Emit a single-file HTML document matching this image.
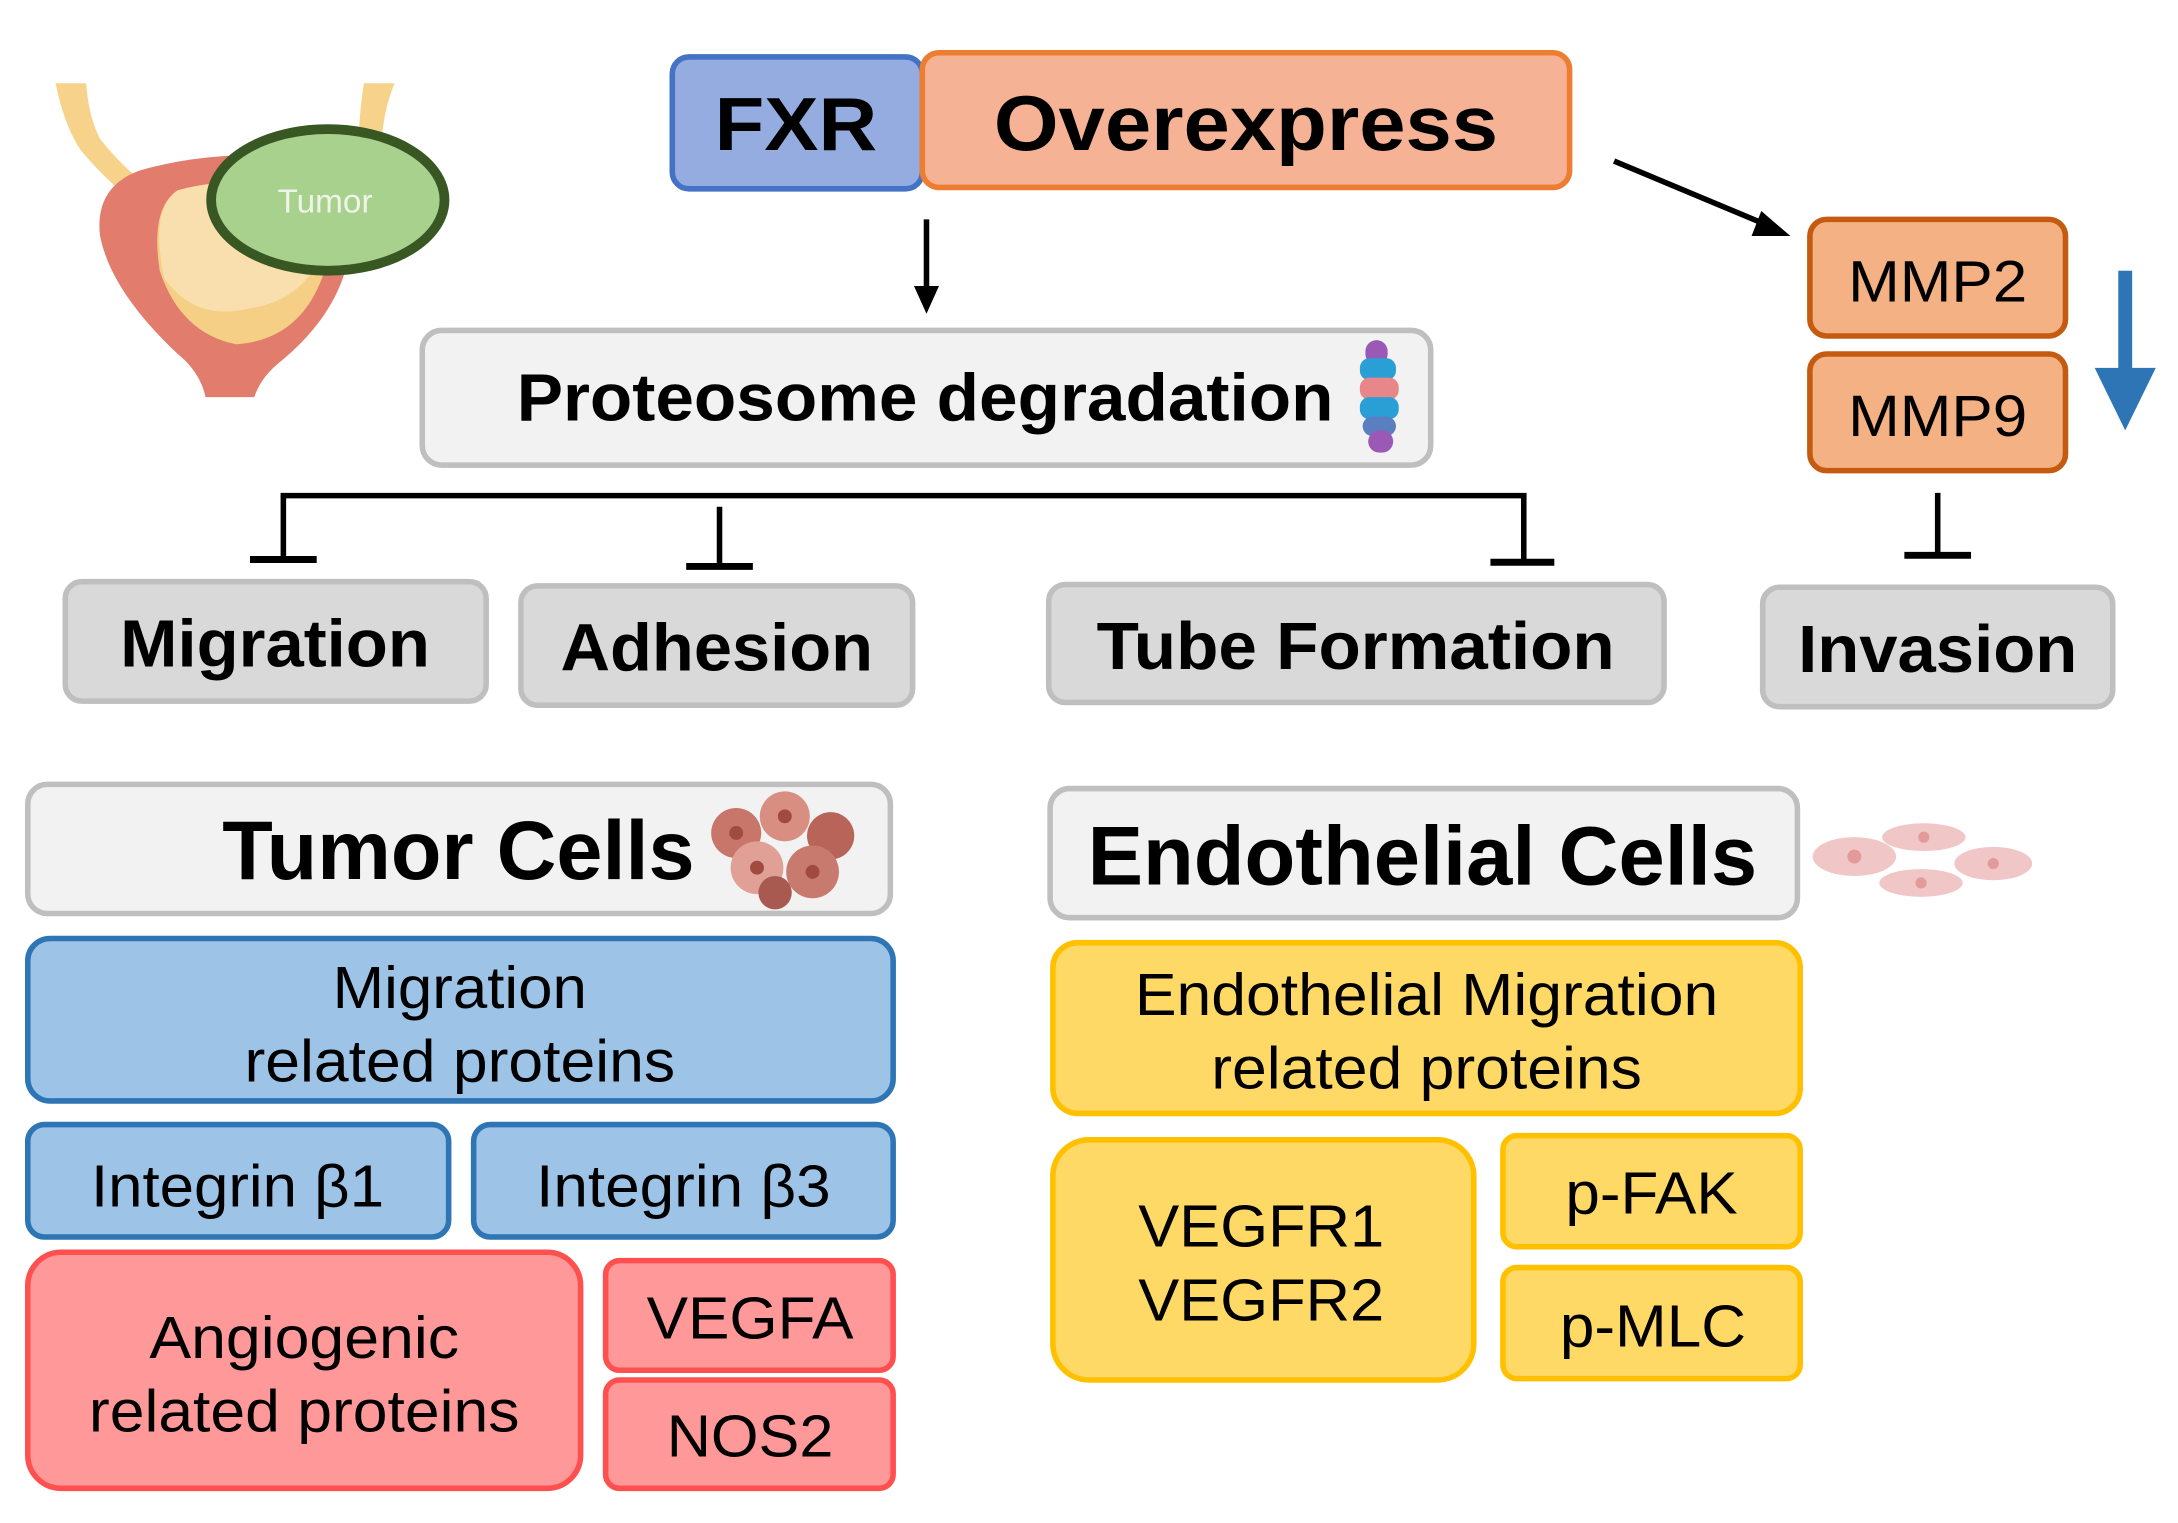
<!DOCTYPE html>
<html><head><meta charset="utf-8"><style>html,body{margin:0;padding:0;background:#fff}svg{display:block}</style></head><body>
<svg width="2178" height="1523" viewBox="0 0 1568 1097" preserveAspectRatio="none" xmlns="http://www.w3.org/2000/svg" font-family="Liberation Sans, Arial, sans-serif">
<!-- bladder -->
<path d="M40,60 L62,60 Q64,85 72,100 Q88,120 104,132 L92,142 Q72,125 58,108 Q46,90 40,60Z" fill="#f7d28a"/>
<path d="M262,60 L284,60 Q276,80 275,100 L258,112 Q258,85 262,60Z" fill="#f7d28a"/>
<path d="M100,123 Q150,108 225,112 Q260,125 250,190 Q240,230 200,262 Q188,272 183,286 L148,286 Q144,268 128,255 Q80,210 72,170 Q68,135 100,123Z" fill="#e27c6c"/>
<path d="M128,137 Q170,126 215,135 Q245,150 232,200 Q215,245 170,248 Q130,240 115,195 Q108,150 128,137Z" fill="#f5cf85"/>
<path d="M128,137 Q170,126 215,135 L240,155 Q230,215 180,222 Q140,232 118,200 Q108,150 128,137Z" fill="#f9dfad"/>
<ellipse cx="236" cy="144" rx="84" ry="51" fill="#a8d18d" stroke="#385723" stroke-width="7"/>
<text x="234" y="153" font-size="24" fill="#eef5e8" text-anchor="middle">Tumor</text>
<!-- FXR / Overexpress -->
<rect x="484" y="41" width="180" height="95" rx="12" fill="#94ace0" stroke="#4472c4" stroke-width="4"/>
<text x="573" y="108" font-size="54" font-weight="bold" text-anchor="middle" textLength="117" lengthAdjust="spacingAndGlyphs">FXR</text>
<rect x="664" y="38" width="466" height="97" rx="12" fill="#f5b294" stroke="#ed7d31" stroke-width="4"/>
<text x="897" y="108" font-size="56" font-weight="bold" text-anchor="middle" textLength="363" lengthAdjust="spacingAndGlyphs">Overexpress</text>
<!-- arrows -->
<line x1="667" y1="158" x2="667" y2="210" stroke="#000" stroke-width="4"/>
<path d="M658,206 L676,206 L667,226Z" fill="#000"/>
<line x1="1162" y1="116" x2="1272" y2="162" stroke="#000" stroke-width="4"/>
<path d="M1268,152 L1289,170 L1261,170Z" fill="#000"/>
<!-- MMP -->
<rect x="1303" y="158" width="184" height="84" rx="12" fill="#f4b183" stroke="#c55a11" stroke-width="4"/>
<text x="1395" y="217" font-size="42" text-anchor="middle" textLength="129" lengthAdjust="spacingAndGlyphs">MMP2</text>
<rect x="1303" y="255" width="184" height="84" rx="12" fill="#f4b183" stroke="#c55a11" stroke-width="4"/>
<text x="1395" y="314" font-size="42" text-anchor="middle" textLength="129" lengthAdjust="spacingAndGlyphs">MMP9</text>
<rect x="1525" y="195" width="10" height="72" fill="#2e75b6"/>
<path d="M1508,265 L1552,265 L1530,310Z" fill="#2e75b6"/>
<!-- Proteosome -->
<rect x="304" y="238" width="726" height="97" rx="14" fill="#f2f2f2" stroke="#bfbfbf" stroke-width="4"/>
<text x="666" y="303" font-size="48" font-weight="bold" text-anchor="middle" textLength="588" lengthAdjust="spacingAndGlyphs">Proteosome degradation</text>
<g>
<rect x="983" y="245" width="16" height="18" rx="8" fill="#9b59b6"/>
<rect x="979" y="258" width="26" height="16" rx="7" fill="#2a9fd6"/>
<rect x="979" y="272" width="28" height="16" rx="7" fill="#e8868a"/>
<rect x="979" y="286" width="28" height="16" rx="7" fill="#2a9fd6"/>
<rect x="981" y="300" width="24" height="14" rx="7" fill="#5a7fc0"/>
<rect x="985" y="310" width="18" height="16" rx="8" fill="#9b59b6"/>
</g>
<!-- bracket -->
<g stroke="#000" stroke-width="4" fill="none">
<line x1="202" y1="357" x2="1099" y2="357"/>
<line x1="204" y1="357" x2="204" y2="403"/>
<line x1="180" y1="403" x2="228" y2="403" stroke-width="5"/>
<line x1="518" y1="365" x2="518" y2="408"/>
<line x1="494" y1="408" x2="542" y2="408" stroke-width="5"/>
<line x1="1097" y1="357" x2="1097" y2="405"/>
<line x1="1073" y1="405" x2="1119" y2="405" stroke-width="5"/>
<line x1="1395" y1="355" x2="1395" y2="400"/>
<line x1="1371" y1="400" x2="1419" y2="400" stroke-width="5"/>
</g>
<!-- gray boxes -->
<g fill="#d9d9d9" stroke="#bfbfbf" stroke-width="4">
<rect x="47" y="419" width="303" height="86" rx="12"/>
<rect x="375" y="422" width="282" height="86" rx="12"/>
<rect x="755" y="421" width="443" height="85" rx="12"/>
<rect x="1269" y="423" width="252" height="86" rx="12"/>
</g>
<g font-size="48" font-weight="bold" text-anchor="middle" lengthAdjust="spacingAndGlyphs">
<text x="198" y="480" textLength="223" lengthAdjust="spacingAndGlyphs">Migration</text>
<text x="516" y="483" textLength="225" lengthAdjust="spacingAndGlyphs">Adhesion</text>
<text x="976" y="482" textLength="373" lengthAdjust="spacingAndGlyphs">Tube Formation</text>
<text x="1395" y="484" textLength="201" lengthAdjust="spacingAndGlyphs">Invasion</text>
</g>
<!-- headers -->
<rect x="20" y="565" width="621" height="93" rx="14" fill="#f2f2f2" stroke="#bfbfbf" stroke-width="4"/>
<text x="330" y="633" font-size="60" font-weight="bold" text-anchor="middle" textLength="340" lengthAdjust="spacingAndGlyphs">Tumor Cells</text>
<g>
<circle cx="530" cy="600" r="18" fill="#c8756a"/><circle cx="565" cy="588" r="18" fill="#d98e82"/><circle cx="598" cy="602" r="17" fill="#b96458"/>
<circle cx="545" cy="625" r="19" fill="#e0a095"/><circle cx="585" cy="628" r="19" fill="#c87a6e"/><circle cx="558" cy="643" r="12" fill="#a85a50"/>
<circle cx="530" cy="600" r="5" fill="#a04a40"/><circle cx="565" cy="588" r="5" fill="#a04a40"/><circle cx="545" cy="625" r="5" fill="#a04a40"/><circle cx="585" cy="628" r="5" fill="#a04a40"/>
</g>
<rect x="756" y="568" width="538" height="93" rx="14" fill="#f2f2f2" stroke="#bfbfbf" stroke-width="4"/>
<text x="1024" y="637" font-size="60" font-weight="bold" text-anchor="middle" textLength="482" lengthAdjust="spacingAndGlyphs">Endothelial Cells</text>
<g fill="#f1c6c6">
<ellipse cx="1335" cy="617" rx="30" ry="14"/><ellipse cx="1385" cy="603" rx="30" ry="10"/><ellipse cx="1435" cy="622" rx="28" ry="12"/><ellipse cx="1383" cy="636" rx="30" ry="10"/>
</g>
<g fill="#e29a9a"><circle cx="1335" cy="617" r="5"/><circle cx="1385" cy="603" r="4"/><circle cx="1435" cy="622" r="4"/><circle cx="1383" cy="636" r="4"/></g>
<!-- tumor blocks -->
<g stroke="#2e75b6" stroke-width="4" fill="#9dc3e6">
<rect x="20" y="676" width="623" height="117" rx="16"/>
<rect x="20" y="810" width="303" height="81" rx="12"/>
<rect x="341" y="810" width="302" height="81" rx="12"/>
</g>
<g fill="#ff9999" stroke="#ff5050" stroke-width="4">
<rect x="20" y="902" width="398" height="170" rx="24"/>
<rect x="436" y="908" width="207" height="79" rx="10"/>
<rect x="436" y="994" width="207" height="78" rx="10"/>
</g>
<g font-size="43" text-anchor="middle">
<text x="331" y="726" textLength="183" lengthAdjust="spacingAndGlyphs">Migration</text>
<text x="331" y="779" textLength="310" lengthAdjust="spacingAndGlyphs">related proteins</text>
<text x="171" y="869" textLength="211" lengthAdjust="spacingAndGlyphs">Integrin β1</text>
<text x="492" y="869" textLength="212" lengthAdjust="spacingAndGlyphs">Integrin β3</text>
<text x="219" y="978" textLength="223" lengthAdjust="spacingAndGlyphs">Angiogenic</text>
<text x="219" y="1031" textLength="310" lengthAdjust="spacingAndGlyphs">related proteins</text>
<text x="540" y="964" textLength="149" lengthAdjust="spacingAndGlyphs">VEGFA</text>
<text x="540" y="1049" textLength="120" lengthAdjust="spacingAndGlyphs">NOS2</text>
</g>
<!-- endothelial blocks -->
<g fill="#ffd966" stroke="#ffc000" stroke-width="4">
<rect x="758" y="679" width="538" height="123" rx="18"/>
<rect x="758" y="821" width="303" height="173" rx="26"/>
<rect x="1082" y="818" width="214" height="80" rx="10"/>
<rect x="1082" y="913" width="214" height="80" rx="10"/>
</g>
<g font-size="43" text-anchor="middle">
<text x="1027" y="731" textLength="420" lengthAdjust="spacingAndGlyphs">Endothelial Migration</text>
<text x="1027" y="784" textLength="310" lengthAdjust="spacingAndGlyphs">related proteins</text>
<text x="908" y="898" textLength="177" lengthAdjust="spacingAndGlyphs">VEGFR1</text>
<text x="908" y="951" textLength="177" lengthAdjust="spacingAndGlyphs">VEGFR2</text>
<text x="1189" y="874" textLength="124" lengthAdjust="spacingAndGlyphs">p-FAK</text>
<text x="1190" y="970" textLength="134" lengthAdjust="spacingAndGlyphs">p-MLC</text>
</g>
</svg>
</body></html>
